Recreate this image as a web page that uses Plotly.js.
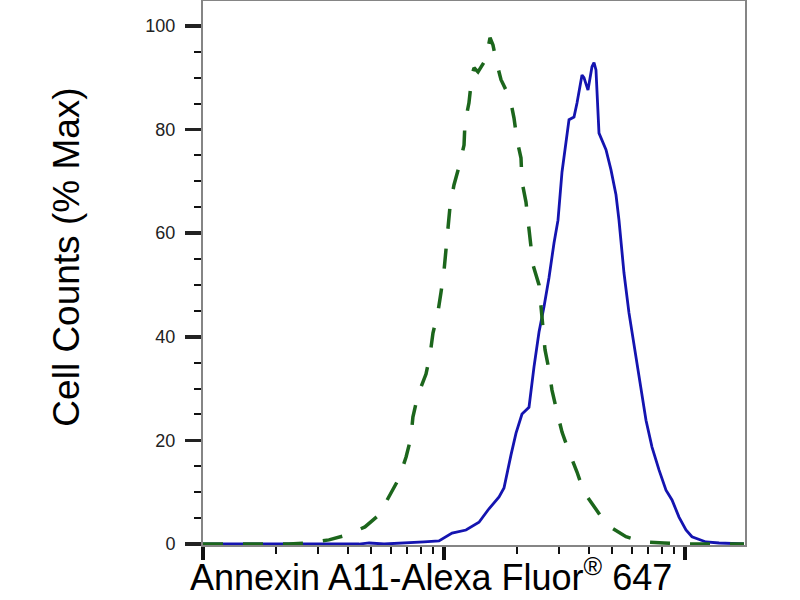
<!DOCTYPE html>
<html>
<head>
<meta charset="utf-8">
<script src="https://cdn.plot.ly/plotly-3.0.1.min.js"></script>
<style>html,body{margin:0;padding:0;background:#fff;}#chart{width:800px;height:600px;}</style>
</head>
<body>
<div id="chart"></div>
<script>
// Fluorescence intensity (log scale) and % Max values
const isotypeX = [10, 15.5, 22.7, 26.8, 33.3, 39.2, 47.0, 53.7, 59.1, 65.1, 69.6, 72.9, 74.3, 78.0, 84.2, 87.5, 90.0, 94.4, 97.2, 100, 105.9, 110.0, 115.4, 121.1, 122.2, 126.9, 130.7, 133.2, 138.4, 149.4, 155.2, 159.7, 164.4, 172.4, 180.9, 187.9, 195.2, 200.9, 208.7, 210.7, 218.9, 227.4, 234.0, 247.9, 252.6, 257.5, 262.5, 272.7, 280.6, 294.4, 308.8, 330.2, 356.4, 380.9, 427.2, 474.6, 569.1, 676.1, 818.5, 990.6, 1757];
const isotypeY = [0, 0, 0, 0.2, 0.8, 1.7, 3.3, 5.6, 9.1, 12.7, 16.8, 20.5, 24.5, 28.8, 32.8, 36.5, 40.7, 44.8, 48.6, 52.7, 65.1, 69.3, 72.8, 77.0, 81.3, 85.1, 90.5, 91.9, 91.1, 93.6, 97.7, 96.3, 93.4, 89.6, 87.6, 86.1, 82.2, 78.0, 74.5, 69.9, 66.0, 58.1, 53.9, 50.0, 45.8, 41.9, 37.5, 33.6, 29.7, 25.5, 21.6, 17.8, 13.9, 10.0, 6.6, 3.7, 1.4, 0.4, 0.2, 0, 0];

const annexinX = [10, 44.4, 48.9, 56.4, 82.6, 95.3, 108.0, 123.4, 139.7, 153.7, 169.2, 177.4, 189.7, 199.0, 210.7, 225.3, 236.3, 247.9, 260.0, 272.7, 286.1, 297.2, 308.8, 330.2, 346.3, 356.4, 373.8, 380.9, 395.8, 411.2, 419.2, 427.2, 439.7, 448.2, 470.1, 493.1, 517.2, 532.2, 558.3, 585.6, 626.0, 656.9, 689.0, 729.7, 780.1, 834.1, 883.4, 944.4, 1009.5, 1069.0, 1222, 1384, 1757];
const annexinY = [0, 0, 0.2, 0, 0.4, 0.6, 2.1, 2.7, 4.2, 6.8, 9.1, 10.8, 17.2, 21.4, 25.1, 26.4, 34.2, 40.9, 45.8, 51.4, 58.1, 62.5, 71.8, 81.9, 82.4, 85.1, 90.5, 90.0, 87.6, 92.1, 92.9, 91.5, 79.3, 78.4, 76.1, 72.2, 67.4, 62.5, 52.3, 44.6, 36.1, 30.3, 23.9, 18.7, 14.3, 10.4, 8.5, 5.2, 2.7, 1.4, 0.4, 0.2, 0];

const xMajorTicks = [10, 100, 1000];
const xMinorTicks = [20, 30, 40, 50, 60, 70, 80, 90, 200, 300, 400, 500, 600, 700, 800, 900];
const yMajorTicks = [0, 20, 40, 60, 80, 100];
const yTickLabels = ['0', '20', '40', '60', '80', '100'];

const xTitle = 'Annexin A11-Alexa Fluor<sup>®</sup> 647';
const yTitle = 'Cell Counts (% Max)';

const traces = [
  {x: annexinX, y: annexinY, type: 'scatter', mode: 'lines',
   line: {color: '#1414b0', width: 2.8}, hoverinfo: 'skip'},
  {x: isotypeX, y: isotypeY, type: 'scatter', mode: 'lines',
   line: {color: '#1c661c', width: 3.5, dash: '20px,20px'}, hoverinfo: 'skip'}
];

const layout = {
  width: 800, height: 600,
  margin: {l: 203, r: 55, t: 1, b: 55},
  paper_bgcolor: '#fff', plot_bgcolor: '#fff',
  showlegend: false,
  font: {family: 'Liberation Sans, Arial, sans-serif', color: '#111'},
  xaxis: {
    type: 'log', range: [1, 3.249], autorange: false,
    showgrid: false, zeroline: false,
    showline: true, linecolor: '#858585', linewidth: 2, mirror: true,
    tickmode: 'array', tickvals: xMajorTicks, showticklabels: false,
    ticks: 'outside', ticklen: 13, tickwidth: 3.5, tickcolor: '#111',
    minor: {tickmode: 'array', tickvals: xMinorTicks, ticks: 'outside', ticklen: 7, tickwidth: 2, tickcolor: '#111', showgrid: false}
  },
  yaxis: {
    range: [-0.19, 104.8], autorange: false,
    showgrid: false, zeroline: false,
    showline: true, linecolor: '#858585', linewidth: 2, mirror: true,
    tickmode: 'array', tickvals: yMajorTicks, ticktext: yTickLabels,
    ticks: 'outside', ticklen: 16, tickwidth: 3.5, tickcolor: '#222',
    ticklabelstandoff: 6,
    tickfont: {size: 18, color: '#222'},
    minor: {dtick: 5, ticks: 'outside', ticklen: 7, tickwidth: 2, tickcolor: '#111', showgrid: false}
  },
  annotations: [
    {text: xTitle, xref: 'paper', yref: 'paper', x: 0.4207, y: -0.0993,
     xanchor: 'center', yanchor: 'bottom', showarrow: false, borderpad: 0,
     font: {size: 36, color: '#000'}},
    {text: yTitle, xref: 'paper', yref: 'paper', x: -0.251, y: 0.53,
     xanchor: 'center', yanchor: 'middle', showarrow: false, textangle: -90, borderpad: 0,
     font: {size: 37, color: '#000'}}
  ]
};

Plotly.newPlot('chart', traces, layout, {staticPlot: true, displayModeBar: false});
</script>
</body>
</html>
